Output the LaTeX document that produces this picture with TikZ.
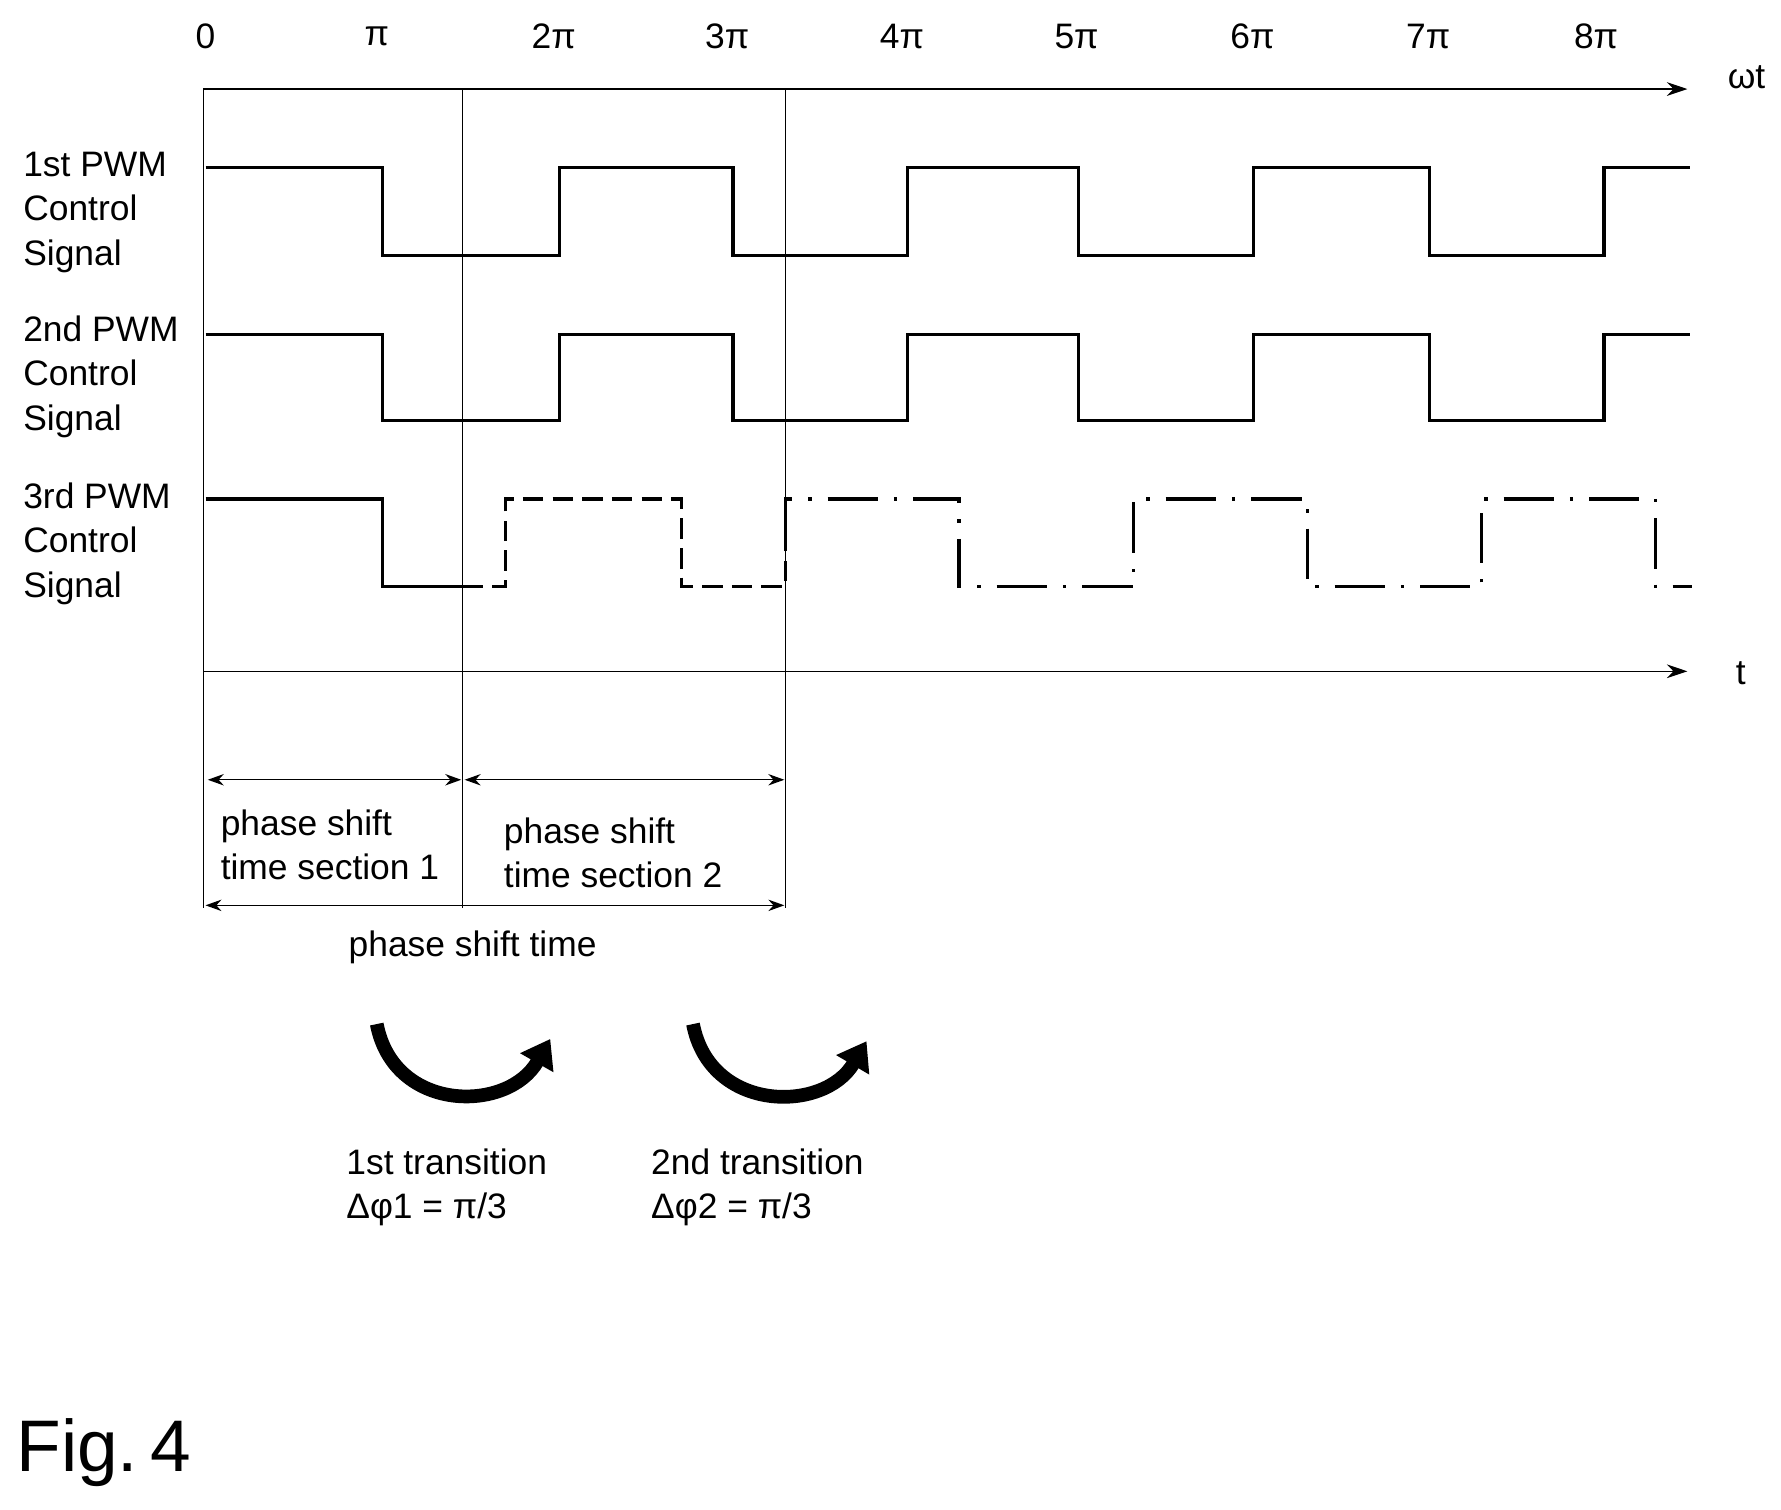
\documentclass[tikz,border=0pt]{standalone}
\usepackage{fontspec}
\setmainfont{Liberation Sans}
\usetikzlibrary{arrows.meta, positioning}

\newcommand{\pwmwave}[2]{% high y, low y
  \draw[sig] (180,#1) -- (335,#1) -- (335,#2)
    -- (490,#2) -- (490,#1) -- (642,#1) -- (642,#2)
    -- (795,#2) -- (795,#1) -- (945,#1) -- (945,#2)
    -- (1098,#2) -- (1098,#1) -- (1252,#1) -- (1252,#2)
    -- (1405,#2) -- (1405,#1) -- (1480,#1);}

\begin{document}
\begin{tikzpicture}[x=0.5pt, y=-0.5pt,
    sig/.style={line width=1.4pt},
    axis/.style={line width=0.6pt, -{Stealth[length=9pt, width=6pt]}},
    span/.style={line width=0.6pt, {Stealth[length=7pt, width=5pt]}-{Stealth[length=7pt, width=5pt]}},
    lbl/.style={font=\fontsize{15.5}{19.5}\selectfont, align=left, anchor=west, inner sep=0pt},
    turn/.style={line width=6pt, -{Triangle[length=12pt, width=16pt]}}
]
\useasboundingbox (0,0) rectangle (1560,1322);

% axes
\coordinate (wt0) at (178,78);  \coordinate (wt1) at (1478,78);
\coordinate (t0) at (178,588);  \coordinate (t1) at (1478,588);
\draw[axis] (wt0) -- (wt1);
\draw[axis] (t0) -- (t1);
\node[lbl] (wt) at (1513,68) {ωt};
\node[lbl] (tlbl) at (1520,590) {t};
\foreach \x/\l in {180/0, 330/π, 485/2π, 637/3π, 790/4π, 943/5π, 1097/6π, 1251/7π, 1398/8π}
  \node[font=\fontsize{15.5}{19.5}\selectfont] at (\x,32) {\l};

% markers
\foreach \x in {178, 405, 688} \draw[line width=0.6pt] (\x,78) -- (\x,795);

% signals
\node[lbl] (s1) at (20,186) {1st PWM\\Control\\Signal};
\node[lbl] (s2) at (20,330) {2nd PWM\\Control\\Signal};
\node[lbl] (s3) at (20,476) {3rd PWM\\Control\\Signal};
\pwmwave{147}{224}
\pwmwave{293}{368}
\draw[sig] (180,437) -- (335,437) -- (335,514) -- (405,514);
\draw[sig, dash pattern=on 9pt off 4pt] (405,514) -- (443,514) -- (443,437) -- (597,437) -- (597,514) -- (688,514) -- (688,475);
\draw[sig, dash pattern=on 22pt off 7pt on 1.5pt off 7pt] (688,475) -- (688,437) -- (840,437) -- (840,514) -- (993,514) -- (993,437)
  -- (1145,437) -- (1145,514) -- (1298,514) -- (1298,437) -- (1450,437) -- (1450,514) -- (1482,514);

% spans
\coordinate (a0) at (182,683); \coordinate (a1) at (404,683); \coordinate (a2) at (407,683); \coordinate (a3) at (687,683);
\coordinate (b0) at (180,793); \coordinate (b1) at (687,793);
\draw[span] (a0) -- (a1);
\draw[span] (a2) -- (a3);
\draw[span] (b0) -- (b1);
\node[lbl] (sec1) at (193,740) {phase shift\\time section 1};
\node[lbl] (sec2) at (441,747) {phase shift\\time section 2};
\node[lbl] (total) at (305,830) {phase shift time};

% transitions
\draw[turn] (330,897) .. controls (345,975) and (445,975) .. (482,910);
\draw[turn] (607,897) .. controls (622,975) and (722,975) .. (759,912);
\node[lbl] (tr1) at (303,1040) {1st transition\\Δφ1 = π/3};
\node[lbl] (tr2) at (570,1040) {2nd transition\\Δφ2 = π/3};

\node[lbl, font=\fontsize{32}{38}\selectfont] (fig) at (14,1272) {Fig.\,4};
\end{tikzpicture}
\end{document}
